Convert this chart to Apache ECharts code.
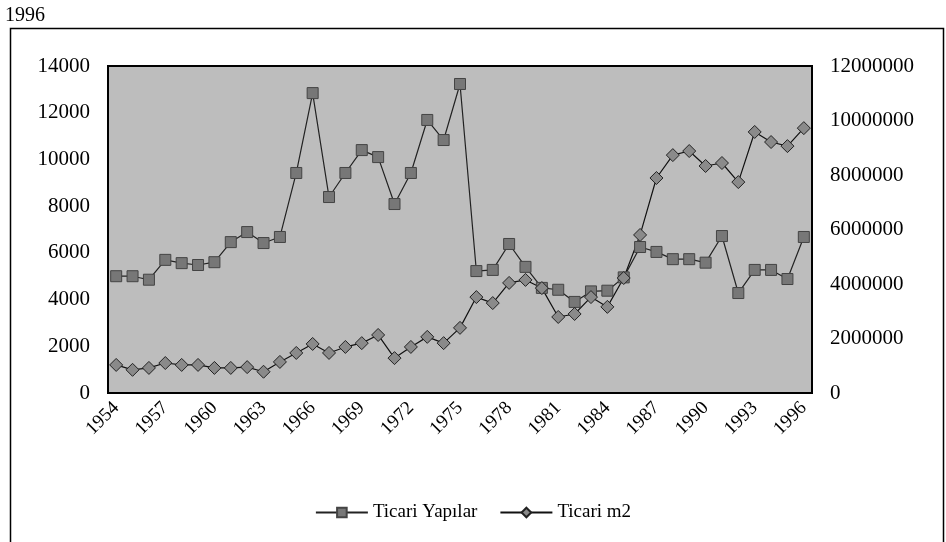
<!DOCTYPE html>
<html>
<head>
<meta charset="utf-8">
<script src="https://cdn.jsdelivr.net/npm/echarts@6/dist/echarts.min.js"></script>
<style>
  html, body { margin: 0; padding: 0; background: #fff; }
  #chart_line { width: 946px; height: 542px; }
</style>
</head>
<body>
<div id="chart_line"></div>
<script>
// yıllar 1954 - 1996
var years = [];
for (var y = 1954; y <= 1996; y++) years.push(String(y));

// Ticari Yapılar (sol eksen)
var ticariYapilar = [
  5000, 5000, 4850, 5700, 5560, 5480, 5600, 6460, 6890, 6420,
  6680, 9420, 12840, 8390, 9420, 10400, 10100, 8090, 9420, 11690,
  10830, 13230, 5220, 5270, 6380, 5400, 4500, 4420, 3900, 4350,
  4380, 4950, 6250, 6040, 5730, 5730, 5580, 6720, 4280, 5270,
  5270, 4880, 6680
];

// Ticari m2 (sağ eksen)
var ticariM2 = [
  1030000, 850000, 920000, 1100000, 1030000, 1030000, 920000, 920000, 950000, 780000,
  1140000, 1470000, 1800000, 1470000, 1690000, 1830000, 2130000, 1280000, 1690000, 2060000,
  1830000, 2390000, 3520000, 3300000, 4040000, 4150000, 3850000, 2790000, 2900000, 3520000,
  3160000, 4220000, 5800000, 7890000, 8730000, 8880000, 8330000, 8440000, 7740000, 9580000,
  9210000, 9060000, 9720000
];

var serif = "'Liberation Serif', 'DejaVu Serif', serif";

// eksen etiketlerinde binlik ayırıcı yok
function plain(v) { return String(v); }

var myChart = echarts.init(document.getElementById('chart_line'));

var option = {
  backgroundColor: '#ffffff',
  animation: false,
  title: {
    text: '1996',
    left: 0,
    top: 1,
    textStyle: { fontFamily: serif, fontSize: 20, fontWeight: 'normal', color: '#000' }
  },
  graphic: [
    {
      type: 'rect',
      shape: { x: 10.5, y: 28.5, width: 933, height: 520 },
      style: { fill: null, stroke: '#000', lineWidth: 1.5 },
      z: 0
    }
  ],
  legend: {
    top: 498,
    left: 'center',
    itemWidth: 52,
    itemHeight: 12,
    itemGap: 22,
    textStyle: { fontFamily: serif, fontSize: 19, color: '#000' },
    data: ['Ticari Yapılar', 'Ticari m2']
  },
  grid: {
    left: 108,
    right: 134,
    top: 66,
    bottom: 149,
    show: true,
    backgroundColor: '#bdbdbd',
    borderColor: '#000',
    borderWidth: 2
  },
  xAxis: {
    type: 'category',
    data: years,
    boundaryGap: true,
    axisLine: { show: false },
    axisTick: { show: false },
    axisLabel: {
      interval: 2,
      rotate: 45,
      margin: 12,
      fontFamily: serif,
      fontSize: 19,
      color: '#000'
    }
  },
  yAxis: [
    {
      type: 'value',
      min: 0,
      max: 14000,
      interval: 2000,
      axisLine: { show: false },
      axisTick: { show: false },
      splitLine: { show: false },
      axisLabel: { fontFamily: serif, fontSize: 21, color: '#000', margin: 18, formatter: plain }
    },
    {
      type: 'value',
      min: 0,
      max: 12000000,
      interval: 2000000,
      axisLine: { show: false },
      axisTick: { show: false },
      splitLine: { show: false },
      axisLabel: { fontFamily: serif, fontSize: 21, color: '#000', margin: 18, formatter: plain }
    }
  ],
  series: [
    {
      name: 'Ticari Yapılar',
      type: 'line',
      yAxisIndex: 0,
      data: ticariYapilar,
      showAllSymbol: true,
      symbol: 'rect',
      symbolSize: 11,
      lineStyle: { color: '#222', width: 1.2 },
      itemStyle: { color: '#777', borderColor: '#444', borderWidth: 1 }
    },
    {
      name: 'Ticari m2',
      type: 'line',
      yAxisIndex: 1,
      data: ticariM2,
      showAllSymbol: true,
      symbol: 'diamond',
      symbolSize: 13,
      lineStyle: { color: '#111', width: 1.2 },
      itemStyle: { color: '#8a8a8a', borderColor: '#222', borderWidth: 1 }
    }
  ]
};

myChart.setOption(option);
</script>
</body>
</html>
